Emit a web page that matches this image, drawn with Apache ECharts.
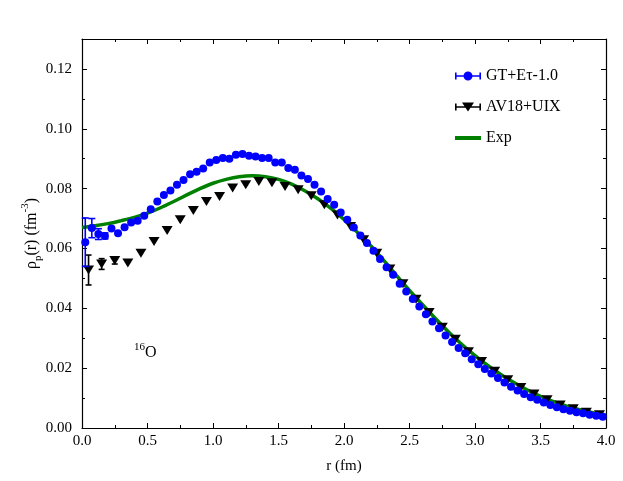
<!DOCTYPE html>
<html>
<head>
<meta charset="utf-8">
<script src="https://cdn.jsdelivr.net/npm/echarts@6/dist/echarts.min.js"></script>
<style>
    html, body { margin: 0; padding: 0; background: #fff; }
    #chart { width: 623px; height: 481px; }
</style>
</head>
<body>
<div id="chart"></div>
<script>
// GT+Etau-1.0 (blue dots)
const blueR = [0.025, 0.075, 0.125, 0.175, 0.225, 0.275, 0.325, 0.375, 0.425, 0.475,
    0.525, 0.575, 0.625, 0.675, 0.725, 0.775, 0.825, 0.875, 0.925, 0.975,
    1.025, 1.075, 1.125, 1.175, 1.225, 1.275, 1.325, 1.375, 1.425, 1.475,
    1.525, 1.575, 1.625, 1.675, 1.725, 1.775, 1.825, 1.875, 1.925, 1.975,
    2.025, 2.075, 2.125, 2.175, 2.225, 2.275, 2.325, 2.375, 2.425, 2.475,
    2.525, 2.575, 2.625, 2.675, 2.725, 2.775, 2.825, 2.875, 2.925, 2.975,
    3.025, 3.075, 3.125, 3.175, 3.225, 3.275, 3.325, 3.375, 3.425, 3.475,
    3.525, 3.575, 3.625, 3.675, 3.725, 3.775, 3.825, 3.875, 3.925, 3.975]
const blueV = [0.0621, 0.0668, 0.0648, 0.0642, 0.0667, 0.0651, 0.0671, 0.0687, 0.0693, 0.0709,
    0.0731, 0.0757, 0.0779, 0.0794, 0.0813, 0.0829, 0.0848, 0.0856, 0.0867, 0.0887,
    0.0896, 0.0902, 0.0900, 0.0913, 0.0916, 0.0910, 0.0907, 0.0902, 0.0902, 0.0887,
    0.0887, 0.0869, 0.0863, 0.0844, 0.0832, 0.0813, 0.0790, 0.0765, 0.0746, 0.0720,
    0.0696, 0.0670, 0.0643, 0.0618, 0.0592, 0.0565, 0.0537, 0.0512, 0.0482, 0.0456,
    0.0431, 0.0406, 0.0380, 0.0356, 0.0333, 0.0309, 0.0287, 0.0267, 0.0250, 0.0230,
    0.0213, 0.0197, 0.0182, 0.0167, 0.0152, 0.0138, 0.0125, 0.0114, 0.0103, 0.0094,
    0.0085, 0.0077, 0.0069, 0.0063, 0.0058, 0.0053, 0.0049, 0.0044, 0.0041, 0.0038]
const blueErrR = [0.025, 0.075, 0.125, 0.175]
const blueErrV = [0.0621, 0.0668, 0.0648, 0.0642]
const blueErr = [0.0081, 0.0032, 0.0018, 0.0010]

// AV18+UIX (black triangles)
const blackR = [0.05, 0.15, 0.25, 0.35, 0.45, 0.55, 0.65, 0.75, 0.85, 0.95,
    1.05, 1.15, 1.25, 1.35, 1.45, 1.55, 1.65, 1.75, 1.85, 1.95,
    2.05, 2.15, 2.25, 2.35, 2.45, 2.55, 2.65, 2.75, 2.85, 2.95,
    3.05, 3.15, 3.25, 3.35, 3.45, 3.55, 3.65, 3.75, 3.85, 3.95]
const blackV = [0.0528, 0.0548, 0.0560, 0.0551, 0.0584, 0.0623, 0.0660, 0.0696, 0.0727, 0.0757,
    0.0774, 0.0802, 0.0813, 0.0824, 0.0820, 0.0807, 0.0796, 0.0776, 0.0746, 0.0712,
    0.0673, 0.0629, 0.0584, 0.0531, 0.0482, 0.0430, 0.0386, 0.0337, 0.0297, 0.0255,
    0.0222, 0.0190, 0.0161, 0.0135, 0.0114, 0.0094, 0.0077, 0.0064, 0.0053, 0.0044]
const blackErrR = [0.05, 0.15, 0.25]
const blackErrV = [0.0528, 0.0548, 0.0560]
const blackErr = [0.0050, 0.0018, 0.0012]

// Exp (green curve)
const greenR = [0.0, 0.1, 0.2, 0.3, 0.4, 0.5, 0.6, 0.7, 0.8, 0.9,
    1.0, 1.1, 1.2, 1.3, 1.4, 1.5, 1.6, 1.7, 1.8, 1.9,
    2.0, 2.1, 2.2, 2.3, 2.4, 2.5, 2.6, 2.7, 2.8, 2.9,
    3.0, 3.1, 3.2, 3.3, 3.4, 3.5, 3.6, 3.7, 3.8, 3.9, 4.0]
const greenV = [0.0670, 0.0676, 0.0683, 0.0693, 0.0704, 0.0718, 0.0736, 0.0757, 0.0779, 0.0800,
    0.0818, 0.0831, 0.0840, 0.0843, 0.0840, 0.0831, 0.0815, 0.0793, 0.0766, 0.0734,
    0.0697, 0.0655, 0.0611, 0.0562, 0.0510, 0.0460, 0.0412, 0.0365, 0.0320, 0.0279,
    0.0242, 0.0208, 0.0178, 0.0151, 0.0127, 0.0106, 0.0088, 0.0073, 0.0061, 0.0051, 0.0043]

const seriesNames = ['GT+Eτ-1.0', 'AV18+UIX', 'Exp']

const font = 'Liberation Serif'

const pair = (xs, ys) => xs.map((x, i) => [x, ys[i]])

function errorBars (name, xs, ys, es, color, cap) {
    return {
        type: 'custom',
        name: name,
        z: 4,
        silent: true,
        renderItem: function (params, api) {
            const top = api.coord([api.value(0), api.value(2)])
            const bot = api.coord([api.value(0), api.value(1)])
            const style = { stroke: color, lineWidth: 1.6 }
            return {
                type: 'group',
                children: [
                    { type: 'line', shape: { x1: top[0], y1: top[1], x2: bot[0], y2: bot[1] }, style: style },
                    { type: 'line', shape: { x1: top[0] - cap, y1: top[1], x2: top[0] + cap, y2: top[1] }, style: style },
                    { type: 'line', shape: { x1: bot[0] - cap, y1: bot[1], x2: bot[0] + cap, y2: bot[1] }, style: style },
                ],
            }
        },
        encode: { x: 0, y: [1, 2] },
        data: xs.map((x, i) => [x, ys[i] - es[i], ys[i] + es[i]]),
    }
}

function valueAxis (pos, min, max, interval, tickLen, labels) {
    return {
        type: 'value',
        position: pos,
        min: min,
        max: max,
        interval: interval,
        axisLine: { show: labels !== null, onZero: false, lineStyle: { color: '#000', width: 1.2 } },
        axisTick: { show: true, inside: true, length: tickLen, lineStyle: { color: '#000', width: 1 } },
        axisLabel: labels || { show: false },
        splitLine: { show: false },
    }
}

const xLabels = { show: true, margin: 6, color: '#000', fontFamily: font, fontSize: 15, formatter: v => v.toFixed(1) }
const yLabels = { show: true, margin: 10, color: '#000', fontFamily: font, fontSize: 15, formatter: v => (v > 0.125 ? '' : v.toFixed(2)) }

const xBottom = valueAxis('bottom', 0, 4, 0.5, 5, xLabels)
xBottom.minorTick = { show: true, splitNumber: 2, length: 3, lineStyle: { color: '#000' } }
xBottom.name = 'r (fm)'
xBottom.nameLocation = 'middle'
xBottom.nameGap = 31
xBottom.nameMoveOverlap = false
xBottom.nameTextStyle = { color: '#000', fontFamily: font, fontSize: 15 }

const xTop = valueAxis('top', 0, 4, 0.5, 5, { show: false })
xTop.minorTick = { show: true, splitNumber: 2, length: 3, lineStyle: { color: '#000' } }

const yLeft = valueAxis('left', 0, 0.13, 0.02, 5, yLabels)
yLeft.name = 'ρ{sub|p}(r) (fm{sup|-3})'
yLeft.nameLocation = 'middle'
yLeft.nameGap = 38
yLeft.nameMoveOverlap = false
yLeft.nameTextStyle = {
    color: '#000', fontFamily: font, fontSize: 16, lineHeight: 24,
    rich: {
        sub: { fontFamily: font, fontSize: 11, verticalAlign: 'bottom', lineHeight: 14, color: '#000' },
        sup: { fontFamily: font, fontSize: 11, verticalAlign: 'top', lineHeight: 12, color: '#000' },
    },
}
const yRight = valueAxis('right', 0, 0.13, 0.02, 5, { show: false })
const yLeftMinor = valueAxis('left', 0, 0.13, 0.01, 3, null)
const yRightMinor = valueAxis('right', 0, 0.13, 0.01, 3, null)

// legend icons, 26 x 9
const iconBlue = 'path://M0 1L1.6 1L1.6 8L0 8Z M24.4 1L26 1L26 8L24.4 8Z M0 3.8L9 3.8L9 5.2L0 5.2Z M17 3.8L26 3.8L26 5.2L17 5.2Z M8.5 4.5A4.5 4.5 0 1 1 17.5 4.5A4.5 4.5 0 1 1 8.5 4.5Z'
const iconBlack = 'path://M0 1L1.6 1L1.6 8L0 8Z M24.4 1L26 1L26 8L24.4 8Z M0 3.8L26 3.8L26 5.2L0 5.2Z M7 0L19 0L13 9Z'
const iconGreen = 'path://M0 0L0.01 0L0 0.01Z M26 9L25.99 9L26 8.99Z M0 2.5L26 2.5L26 6.5L0 6.5Z'

const chart = echarts.init(document.getElementById('chart'))
chart.setOption({
    animation: false,
    backgroundColor: '#fff',
    grid: { left: 82, right: 17, top: 39, bottom: 53, containLabel: false },
    legend: {
        orient: 'vertical',
        left: 450,
        top: 63,
        itemWidth: 26,
        itemHeight: 9,
        itemGap: 15,
        textStyle: { color: '#000', fontFamily: font, fontSize: 16, lineHeight: 16 },
        data: [
            { name: seriesNames[0], icon: iconBlue, itemStyle: { color: '#0000ff' } },
            { name: seriesNames[1], icon: iconBlack, itemStyle: { color: '#000' } },
            { name: seriesNames[2], icon: iconGreen, itemStyle: { color: '#008000' } },
        ],
    },
    xAxis: [xBottom, xTop],
    yAxis: [yLeft, yRight, yLeftMinor, yRightMinor],
    graphic: [
        {
            type: 'text',
            left: 134,
            top: 342,
            style: {
                text: '{s|16}{o|O}',
                rich: {
                    s: { fontFamily: font, fontSize: 11, verticalAlign: 'top', lineHeight: 11, fill: '#000' },
                    o: { fontFamily: font, fontSize: 16, lineHeight: 22, fill: '#000' },
                },
            },
        },
    ],
    series: [
        {
            name: seriesNames[2],
            type: 'line',
            smooth: 0.3,
            showSymbol: false,
            z: 1,
            lineStyle: { color: '#008000', width: 3.5 },
            itemStyle: { color: '#008000' },
            data: pair(greenR, greenV),
        },
        {
            name: seriesNames[1],
            type: 'scatter',
            symbol: 'triangle',
            symbolRotate: 180,
            symbolSize: [11, 9],
            z: 2,
            itemStyle: { color: '#000', opacity: 1 },
            data: pair(blackR, blackV),
        },
        errorBars('AV18 err', blackErrR, blackErrV, blackErr, '#000', 3),
        {
            name: seriesNames[0],
            type: 'scatter',
            symbol: 'circle',
            symbolSize: 8,
            z: 3,
            itemStyle: { color: '#0000ff', opacity: 1 },
            data: pair(blueR, blueV),
        },
        errorBars('GT err', blueErrR, blueErrV, blueErr, '#0000ff', 3.5),
    ],
})
</script>
</body>
</html>
